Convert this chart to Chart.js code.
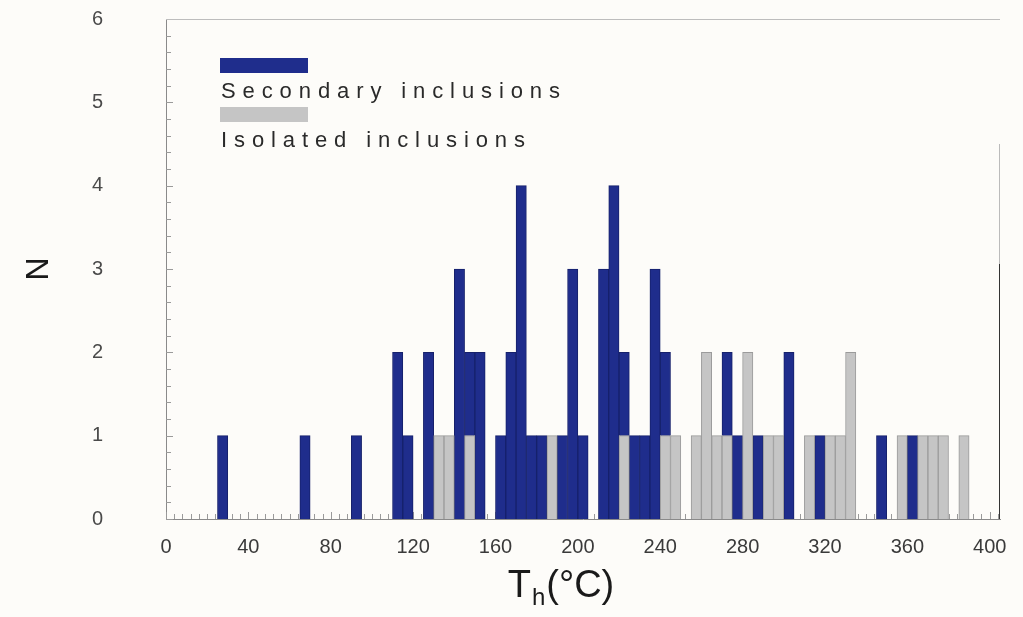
<!DOCTYPE html>
<html>
<head>
<meta charset="utf-8">
<script src="https://cdn.jsdelivr.net/npm/chart.js@4.4.0/dist/chart.umd.min.js"></script>
<style>
  body { margin: 0; background: #fdfcf9; }
  canvas { display: block; }
</style>
</head>
<body>
<canvas id="grafico" width="1023" height="617"></canvas>
<script>
// bin width in degrees C, bins are given by their left edge
const binWidth = 5;

const secondaryBins   = [25, 65, 90, 110, 115, 125, 140, 145, 150, 160, 165, 170, 175, 180, 190, 195, 200, 210, 215, 220, 225, 230, 235, 240, 270, 275, 285, 300, 315, 345, 360];
const secondaryCounts = [1,  1,  1,  2,   1,   2,   3,   1,   2,   1,   2,   4,   1,   1,   1,   3,   1,   3,   4,   1,   1,   1,   3,   1,   1,   1,   1,   2,   1,   1,   1];

const isolatedBins   = [130, 135, 145, 185, 220, 240, 245, 255, 260, 265, 270, 280, 290, 295, 310, 320, 325, 330, 355, 365, 370, 375, 385];
const isolatedCounts = [1,   1,   1,   1,   1,   1,   1,   1,   2,   1,   1,   2,   1,   1,   1,   1,   1,   2,   1,   1,   1,   1,   1];

const xTicks = [0, 40, 80, 120, 160, 200, 240, 280, 320, 360, 400];
const yTicks = [0, 1, 2, 3, 4, 5, 6];

function toPoints(bins, counts) {
    return bins.map((b, i) => ({ x: b + binWidth / 2, y: counts[i] }));
}

const azul = '#1f2d8c';
const cinza = '#c5c5c5';

// moldura, tracinhos menores, legenda e titulo do eixo x
const extras = {
    id: 'extras',
    beforeDatasetsDraw(chart) {
        const { ctx, chartArea: a, scales: { x, y } } = chart;
        ctx.save();
        ctx.strokeStyle = '#9a9a9a';
        ctx.lineWidth = 1;
        ctx.beginPath();
        for (let v = 0; v <= 404; v += 4) {
            const px = Math.round(x.getPixelForValue(v)) + 0.5;
            ctx.moveTo(px, a.bottom);
            ctx.lineTo(px, a.bottom - (v % 40 === 0 ? 7 : 5));
        }
        for (let i = 0; i <= 30; i++) {
            const py = Math.round(y.getPixelForValue(i * 0.2)) + 0.5;
            ctx.moveTo(a.left, py);
            ctx.lineTo(a.left + (i % 5 === 0 ? 7 : 5), py);
        }
        ctx.stroke();
        // topo e lado direito
        ctx.strokeStyle = '#bdbdbd';
        ctx.beginPath();
        ctx.moveTo(a.left, a.top + 0.5);
        ctx.lineTo(a.right, a.top + 0.5);
        ctx.stroke();
        ctx.strokeStyle = '#bbb';
        ctx.beginPath();
        ctx.moveTo(a.right - 0.5, a.top + 125);
        ctx.lineTo(a.right - 0.5, a.top + 245);
        ctx.stroke();
        ctx.strokeStyle = '#333';
        ctx.beginPath();
        ctx.moveTo(a.right - 0.5, a.top + 245);
        ctx.lineTo(a.right - 0.5, a.bottom);
        ctx.stroke();
        ctx.restore();
    },
    afterDraw(chart) {
        const ctx = chart.ctx;
        ctx.save();
        // legenda: quadradinho em cima, texto embaixo
        const ordem = [1, 0];
        const fonte = '22px "Liberation Sans", Arial, sans-serif';
        ordem.forEach((idx, k) => {
            const ds = chart.data.datasets[idx];
            const top = 58 + k * 49;
            ctx.fillStyle = ds.backgroundColor;
            ctx.fillRect(220, top, 88, 15);
            ctx.fillStyle = '#2a2a2a';
            ctx.font = fonte;
            ctx.textBaseline = 'alphabetic';
            let px = 221;
            for (const ch of ds.label) {
                ctx.fillText(ch, px, top + 40);
                px += ctx.measureText(ch).width + 6.9;
            }
        });
        // titulo do eixo x com subscrito
        const big = '38px "Liberation Sans", Arial, sans-serif';
        const small = '24px "Liberation Sans", Arial, sans-serif';
        ctx.fillStyle = '#1a1a1a';
        ctx.font = big;
        const wT = ctx.measureText('T').width;
        const wP = ctx.measureText('(°C)').width;
        ctx.font = small;
        const wH = ctx.measureText('h').width;
        let x0 = 561 - (wT + wH + wP + 2) / 2;
        const base = 597;
        ctx.font = big;
        ctx.fillText('T', x0, base);
        ctx.font = small;
        ctx.fillText('h', x0 + wT + 1, base + 8);
        ctx.font = big;
        ctx.fillText('(°C)', x0 + wT + wH + 2, base);
        ctx.restore();
    }
};

const grafico = new Chart(document.getElementById('grafico'), {
    type: 'bar',
    data: {
        datasets: [
            {
                label: 'Isolated inclusions',
                data: toPoints(isolatedBins, isolatedCounts),
                backgroundColor: cinza,
                borderColor: '#9b9b9b',
                borderWidth: 1,
                stack: 'n'
            },
            {
                label: 'Secondary inclusions',
                data: toPoints(secondaryBins, secondaryCounts),
                backgroundColor: azul,
                borderColor: '#16216b',
                borderWidth: 1,
                stack: 'n'
            }
        ]
    },
    options: {
        responsive: false,
        animation: false,
        layout: { autoPadding: false, padding: { top: 19, right: 23, left: 0, bottom: 0 } },
        datasets: { bar: { barPercentage: 1, categoryPercentage: 1 } },
        plugins: {
            legend: { display: false },
            tooltip: { enabled: false }
        },
        scales: {
            x: {
                type: 'linear',
                offset: false,
                stacked: true,
                min: 0,
                max: 405,
                grid: { display: false },
                border: { color: '#8a8a8a' },
                ticks: {
                    padding: 8,
                    maxRotation: 0,
                    color: '#3a3a3a',
                    font: { size: 20, family: '"Liberation Sans", Arial, sans-serif' }
                },
                afterBuildTicks(scale) {
                    scale.ticks = xTicks.map(v => ({ value: v }));
                },
                afterFit(scale) { scale.height = 98; }
            },
            y: {
                stacked: true,
                min: 0,
                max: 6,
                grid: { display: false },
                border: { color: '#8a8a8a' },
                ticks: {
                    padding: 55,
                    color: '#4a4a4a',
                    font: { size: 20, family: '"Liberation Sans", Arial, sans-serif' }
                },
                afterBuildTicks(scale) {
                    scale.ticks = yTicks.map(v => ({ value: v }));
                },
                title: {
                    display: true,
                    text: 'N',
                    color: '#1a1a1a',
                    padding: { top: 20, bottom: 0 },
                    font: { size: 32, family: '"Liberation Sans", Arial, sans-serif' }
                },
                afterFit(scale) {
                    scale.width = 166;
                    scale.paddingTop = 0;
                    scale.paddingBottom = 0;
                }
            }
        }
    },
    plugins: [extras]
});
</script>
</body>
</html>
